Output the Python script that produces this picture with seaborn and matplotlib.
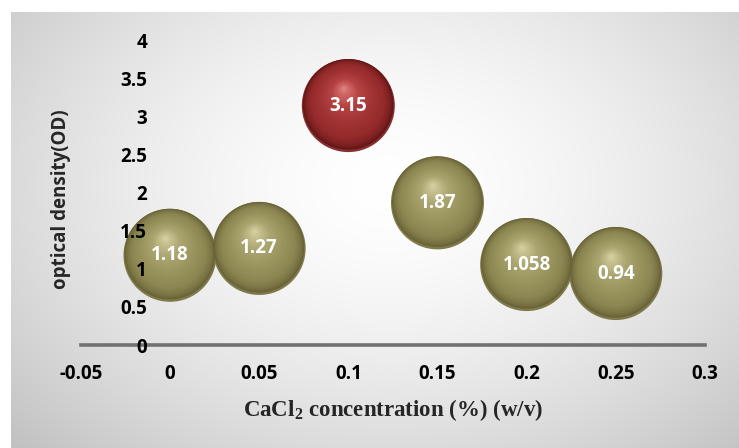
import numpy as np
import pandas as pd
import matplotlib
matplotlib.use("Agg")
import matplotlib.pyplot as plt
import matplotlib.transforms as mtransforms
from matplotlib.colors import to_rgb
import seaborn as sns

# CaCl2 concentration (% w/v) and measured optical density
concentration = [0.0, 0.05, 0.10, 0.15, 0.20, 0.25]
optical_density = [1.18, 1.27, 3.15, 1.87, 1.058, 0.94]
value_labels = ["1.18", "1.27", "3.15", "1.87", "1.058", "0.94"]
group = ["other", "other", "peak", "other", "other", "other"]

x_ticks = [-0.05, 0.0, 0.05, 0.10, 0.15, 0.20, 0.25, 0.30]
x_tick_labels = ["-0.05", "0", "0.05", "0.1", "0.15", "0.2", "0.25", "0.3"]
y_ticks = [0, 0.5, 1, 1.5, 2, 2.5, 3, 3.5, 4]
y_tick_labels = ["0", "0.5", "1", "1.5", "2", "2.5", "3", "3.5", "4"]

df = pd.DataFrame({"conc": concentration, "od": optical_density, "group": group})

sns.set_theme(style="white")
plt.rcParams["font.family"] = ["Open Sans", "DejaVu Sans"]
plt.rcParams["font.weight"] = "bold"
plt.rcParams["mathtext.fontset"] = "custom"
plt.rcParams["mathtext.rm"] = "Liberation Serif:bold"

W, H, DPI = 739, 448, 100
fig = plt.figure(figsize=(W / DPI, H / DPI), dpi=DPI, facecolor="white")

# soft radial grey backdrop of the chart panel
bg_left, bg_top = 11, 12
bg = fig.add_axes([bg_left / W, 0, 1 - bg_left / W, (H - bg_top) / H], zorder=-10)
gx = np.arange(bg_left, W) + 0.5
gy = np.arange(bg_top, H) + 0.5
XX, YY = np.meshgrid(gx, gy)
d = np.sqrt(((XX - 390) / 420) ** 2 + ((YY - 185) / 300) ** 2)
v = 1 - 0.17 * np.clip(d, 0, 1.3) ** 1.6
bg.imshow(np.dstack([v, v, v]), aspect="auto", extent=[0, 1, 0, 1], interpolation="bilinear")
bg.set_axis_off()

# main axes: x from -0.05 to 0.3, y from 0 to 4
x0, x1 = 80.8, 705.0
y0, y1 = 345.0, 41.0
ax = fig.add_axes([x0 / W, (H - y0) / H, (x1 - x0) / W, (y0 - y1) / H])
ax.set_facecolor("none")

# vertical axis crosses at x = 0 (line hidden), horizontal axis drawn at y = 0
for side in ["top", "right"]:
    ax.spines[side].set_visible(False)
ax.spines["left"].set_position(("data", 0))
ax.spines["left"].set_color("none")
ax.spines["bottom"].set_color("#717171")
ax.spines["bottom"].set_linewidth(2.6)

# shaded spheres built from concentric discs shrinking toward a highlight
stops_t = [1.0, 0.92, 0.8, 0.55, 0.3, 0.12, 0.0]
olive = ["#5f5a32", "#7a7444", "#8c8652", "#9b955f", "#aca672", "#c6c08e", "#dad5a6"]
red = ["#581212", "#7c1f20", "#942a2b", "#a33435", "#b54344", "#cf6666", "#e08a8a"]
rim = {"other": "#807a4a", "peak": "#873030"}


def blend(stops, t):
    cols = np.array([to_rgb(c) for c in stops])[::-1]
    ts = np.array(stops_t)[::-1]
    return tuple(np.interp(t, ts, cols[:, k]) for k in range(3))


diam_pt = 93 * 72 / DPI
hl_dx, hl_dy = -0.10 * diam_pt / 2, 0.36 * diam_pt / 2

# faint lighter rim along the lower edge
sns.scatterplot(data=df, x="conc", y="od", hue="group", palette=rim,
                s=diam_pt ** 2, linewidth=0, legend=False, ax=ax, zorder=1)
layers = np.linspace(0.975, 0.03, 46)
for t in layers:
    off = mtransforms.offset_copy(ax.transData, fig=fig,
                                  x=(1 - t) * hl_dx, y=(1 - t) * hl_dy + 0.6,
                                  units="points")
    pal = {"other": blend(olive, t), "peak": blend(red, t)}
    sns.scatterplot(data=df, x="conc", y="od", hue="group", palette=pal,
                    s=(t * diam_pt) ** 2, linewidth=0, legend=False,
                    transform=off, ax=ax, zorder=1)

for xv, yv, lab in zip(concentration, optical_density, value_labels):
    ax.text(xv, yv, lab, color="white", fontsize=13.5, fontweight="bold",
            family="Open Sans", ha="center", va="center", zorder=3)

ax.set_xlim(-0.05, 0.30)
ax.set_ylim(0, 4)
ax.set_xticks(x_ticks)
ax.set_xticklabels(x_tick_labels, fontweight="bold")
ax.set_yticks(y_ticks)
ax.set_yticklabels(y_tick_labels, fontweight="bold")
ax.tick_params(axis="both", length=0, labelsize=13.5, labelcolor="black")
ax.tick_params(axis="x", pad=14)
ax.tick_params(axis="y", pad=16.5)
ax.set_axisbelow(False)

ax.set_xlabel("")
ax.set_ylabel("")
fig.text(393 / W, 1 - 410 / H, r"CaCl$_{2}$ concentration (%) (w/v)",
         family="Liberation Serif", fontweight="bold", fontsize=16.5,
         ha="center", va="center")
fig.text(61 / W, 1 - 199 / H, "optical density(OD)", family="Open Sans",
         fontweight="bold", fontsize=13.5, rotation=90, ha="center", va="center")

fig.savefig("out.png", dpi=DPI, facecolor="white")
